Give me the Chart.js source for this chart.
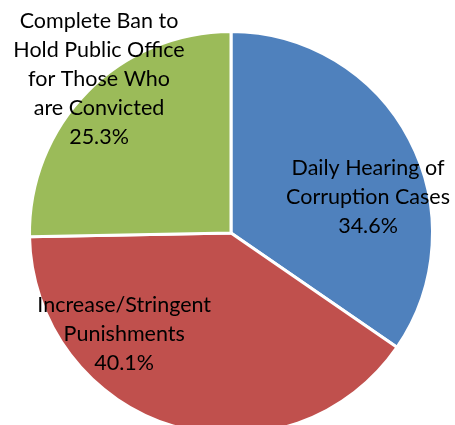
<!DOCTYPE html>
<html>
<head>
<meta charset="utf-8">
<script src="https://cdn.jsdelivr.net/npm/chart.js@4"></script>
<style>
  html, body { margin: 0; padding: 0; background: #fff; overflow: hidden; }
  #wrap { position: absolute; left: 0; top: 0; width: 455px; height: 470px; }
</style>
</head>
<body>
<div id="wrap"><canvas id="grafico"></canvas></div>
<script>
const categorias = [
  ['Daily Hearing of', 'Corruption Cases'],
  ['Increase/Stringent', 'Punishments'],
  ['Complete Ban to', 'Hold Public Office', 'for Those Who', 'are Convicted']
];
const valores = [34.6, 40.1, 25.3];
const cores = ['#4F81BD', '#C0504D', '#9BBB59'];

// onde fica cada rotulo, em fracao do raio (x, y) a partir do centro
const posRotulos = [[0.68, -0.18], [-0.53, 0.50], [-0.655, -0.765]];

const rotulosPlugin = {
  id: 'rotulos',
  afterDatasetsDraw(chart) {
    const ctx = chart.ctx;
    const meta = chart.getDatasetMeta(0);
    const arco = meta.data[0];
    const cx = arco.x, cy = arco.y, r = arco.outerRadius;
    const lh = 29;
    ctx.save();
    ctx.fillStyle = '#000';
    ctx.font = '21.5px Lato';
    ctx.textAlign = 'center';
    ctx.textBaseline = 'middle';
    categorias.forEach((linhas, i) => {
      const todas = linhas.concat([valores[i].toFixed(1) + '%']);
      const x = cx + posRotulos[i][0] * r;
      const y0 = cy + posRotulos[i][1] * r - (todas.length - 1) * lh / 2;
      todas.forEach((t, j) => ctx.fillText(t, x, y0 + j * lh));
    });
    ctx.restore();
  }
};

new Chart(document.getElementById('grafico'), {
  type: 'pie',
  data: {
    labels: categorias.map(c => c.join(' ')),
    datasets: [{
      data: valores,
      backgroundColor: cores,
      borderColor: '#fff',
      borderWidth: 3
    }]
  },
  options: {
    responsive: true,
    maintainAspectRatio: false,
    animation: false,
    layout: { padding: { left: 28, right: 21, top: 30, bottom: 34 } },
    plugins: { legend: { display: false }, tooltip: { enabled: false } }
  },
  plugins: [rotulosPlugin]
});
</script>
</body>
</html>
